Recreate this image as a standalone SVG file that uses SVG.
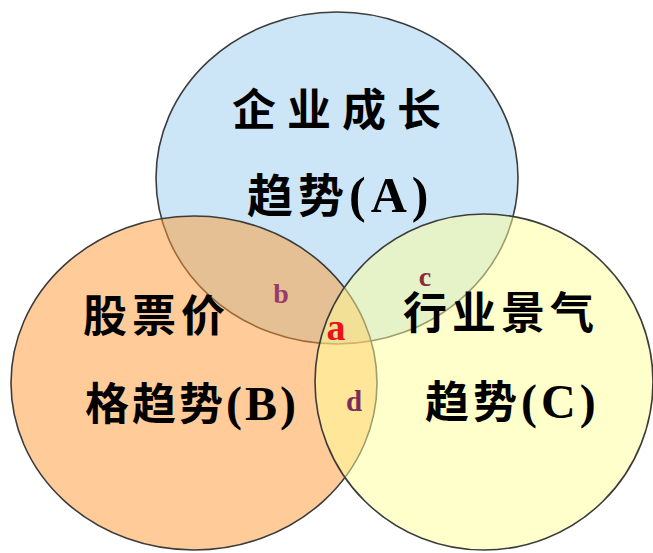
<svg xmlns="http://www.w3.org/2000/svg" width="653" height="553" viewBox="0 0 653 553">
<style>
.c{stroke:#3c3c3c;stroke-width:1.6;fill-opacity:0.5}
.t{font-family:"Liberation Serif","Noto Sans CJK SC",serif;font-weight:bold;fill:#000}
.s{font-family:"Liberation Serif","Noto Sans CJK SC",serif;font-weight:bold}
</style>
<rect width="653" height="553" fill="#ffffff"/>
<g id="nodeA">
<ellipse class="c" cx="337" cy="178" rx="181" ry="166" fill="#9ccdf0"/>
</g>
<g id="nodeB">
<ellipse class="c" cx="194" cy="383" rx="183" ry="167" fill="#ff9933"/>
</g>
<g id="nodeC">
<ellipse class="c" cx="484" cy="382" rx="169" ry="168" fill="#ffff99"/>
</g>
<g id="labelA">
<text class="t" x="232" y="126" font-size="44" letter-spacing="11">企业成长</text>
<text class="t" x="247" y="212" font-size="46" letter-spacing="5">趋势<tspan font-size="50">(A)</tspan></text>
</g>
<g id="labelB">
<text class="t" x="83" y="332" font-size="44" letter-spacing="5">股票价</text>
<text class="t" x="85" y="420" font-size="44" letter-spacing="3">格趋势<tspan font-size="48">(B)</tspan></text>
</g>
<g id="labelC">
<text class="t" x="403" y="329" font-size="44" letter-spacing="5">行业景气</text>
<text class="t" x="425" y="418" font-size="44" letter-spacing="4">趋势<tspan font-size="48">(C)</tspan></text>
</g>
<g id="regions">
<text class="s" x="281" y="303" font-size="28" text-anchor="middle" fill="#9a3a6a">b</text>
<text class="s" x="425" y="286" font-size="28" text-anchor="middle" fill="#8c2a3c">c</text>
<text class="s" x="336" y="340" font-size="38" text-anchor="middle" fill="#e8141a">a</text>
<text class="s" x="354" y="411" font-size="29" text-anchor="middle" fill="#7a2e5c">d</text>
</g>
<g id="connectors"></g>
</svg>
